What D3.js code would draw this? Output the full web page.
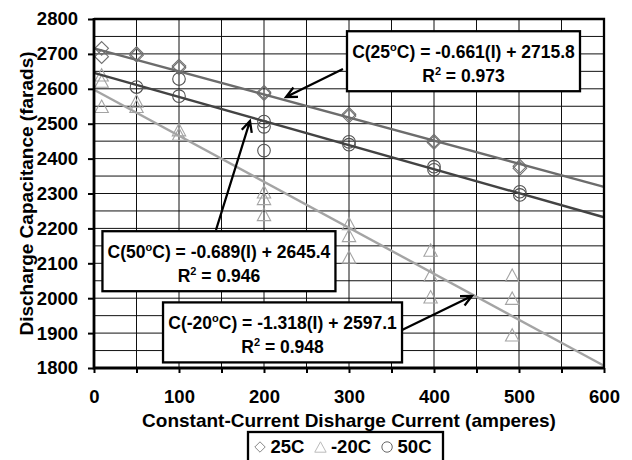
<!DOCTYPE html>
<html>
<head>
<meta charset="utf-8">
<script src="https://cdn.jsdelivr.net/npm/d3@7/dist/d3.min.js"></script>
<style>
body{margin:0;background:#fff;}
svg{display:block;font-family:"Liberation Sans",Arial,sans-serif;font-weight:bold;}
</style>
</head>
<body>
<div id="chart"></div>
<script>
// measured points [current (A), capacitance (F)]
var points25 = [[9,2716],[9,2692],[50,2701],[50,2696],[100,2665],[100,2660],[200,2590],[200,2586],
  [300,2527],[300,2522],[400,2450],[400,2446],[501,2378],[501,2372]];
var pointsM20 = [[9,2640],[9,2622],[9,2550],[50,2565],[50,2550],[100,2483],[100,2470],[200,2305],
  [200,2286],[200,2240],[300,2214],[300,2180],[300,2118],[396,2138],[396,2066],[396,2004],
  [492,2066],[492,2000],[492,1895]];
var points50 = [[50,2605],[100,2628],[100,2579],[200,2506],[200,2491],[200,2423],[300,2448],
  [300,2440],[400,2377],[400,2368],[501,2305],[501,2296]];

var seriesNames = ['25C', '-20C', '50C'];
var seriesTemp = ['25', '-20', '50'];
var fitSlope = [-0.661, -1.318, -0.689];
var fitIntercept = [2715.8, 2597.1, 2645.4];
var rSquared = ['0.973', '0.948', '0.946'];

// annotation boxes (centre, data units) and arrows (from -> to, data units)
var boxCentre = [[434.7, 2679], [221.8, 1902], [147, 2106]];
var arrowFrom = [[292.9, 2656.7], [362.4, 1908.9], [143.5, 2195.4]];
var arrowTo = [[225.9, 2576.5], [444.7, 2006.3], [183.5, 2507.7]];

var xTicks = d3.range(0, 601, 50);
var yTicks = d3.range(1800, 2801, 100);

var width = 632, height = 460;
var markerColor = ['#707070', '#a4a4a4', '#505050'];
var lineColor = ['#6c6c6c', '#a4a4a4', '#434343'];

var svg = d3.select('#chart').append('svg')
  .attr('width', width).attr('height', height);

var x = d3.scaleLinear().domain([0, 600]).range([94, 604]);
var y = d3.scaleLinear().domain([1800, 2800]).range([368, 19]);

// grid every 50 both ways
var grid = svg.append('g').attr('stroke', '#111').attr('stroke-width', 1);
grid.selectAll('.gx').data(d3.range(50, 600, 50)).enter().append('line')
  .attr('x1', d => x(d)).attr('x2', d => x(d))
  .attr('y1', y(1800)).attr('y2', y(2800));
grid.selectAll('.gy').data(d3.range(1850, 2800, 50)).enter().append('line')
  .attr('x1', x(0)).attr('x2', x(600))
  .attr('y1', d => y(d)).attr('y2', d => y(d));

// marker shapes
function diamond(r){
  return 'M0,' + (-r) + 'L' + r + ',0L0,' + r + 'L' + (-r) + ',0Z';
}
function triangle(r){
  return 'M0,' + (-r) + 'L' + (r + 0.5) + ',' + r + 'L' + (-r - 0.5) + ',' + r + 'Z';
}
function circle(r){
  return d3.arc()({innerRadius: 0, outerRadius: r, startAngle: 0, endAngle: 2 * Math.PI});
}
var shapes = [diamond, triangle, circle];
var allPoints = [points25, pointsM20, points50];
var markerSize = [6.8, 6.2, 6.3];

for(var i = 0; i < allPoints.length; i++){
  svg.append('g').selectAll('path').data(allPoints[i]).enter().append('path')
    .attr('transform', d => 'translate(' + x(d[0]) + ',' + y(d[1]) + ')')
    .attr('d', shapes[i](markerSize[i]))
    .attr('fill', 'none')
    .attr('stroke', markerColor[i])
    .attr('stroke-width', 1.1);
}

// trend lines from the fitted equations
for(var i = 0; i < fitSlope.length; i++){
  var fit = [0, 600].map(v => [v, fitIntercept[i] + fitSlope[i] * v]);
  svg.append('path')
    .attr('d', d3.line().x(d => x(d[0])).y(d => y(d[1]))(fit))
    .attr('fill', 'none')
    .attr('stroke', lineColor[i])
    .attr('stroke-width', 2.4);
}

// axes
var yAxis = svg.append('g')
  .attr('transform', 'translate(' + x(0) + ',0)')
  .call(d3.axisLeft(y).tickValues(yTicks).tickSize(6).tickPadding(10).tickFormat(d3.format('d')));
var xAxis = svg.append('g')
  .attr('transform', 'translate(0,' + y(1800) + ')')
  .call(d3.axisBottom(x).tickValues(xTicks).tickSize(5).tickPadding(17)
    .tickFormat(d => d % 100 === 0 ? d : ''));
[yAxis, xAxis].forEach(function(a){
  a.select('.domain').remove();
  a.selectAll('line').attr('stroke', '#000').attr('stroke-width', 2);
  a.selectAll('text').attr('fill', '#000')
    .style('font-size', '18.5px').style('font-weight', 'bold')
    .style('font-family', '"Liberation Sans",Arial,sans-serif');
});

// frame
svg.append('path')
  .attr('d', 'M' + x(0) + ',' + y(2800) + 'H' + x(600) + 'V' + y(1800))
  .attr('fill', 'none').attr('stroke', '#000').attr('stroke-width', 2.3);
svg.append('path')
  .attr('d', 'M' + x(0) + ',' + (y(2800) - 1) + 'V' + y(1800) + 'H' + (x(600) + 1))
  .attr('fill', 'none').attr('stroke', '#000').attr('stroke-width', 2.8);

// axis titles
svg.append('text')
  .attr('transform', 'translate(33,' + ((y(1800) + y(2800)) / 2) + ') rotate(-90)')
  .attr('text-anchor', 'middle')
  .style('font-size', '19px')
  .text('Discharge Capacitance (farads)');
svg.append('text')
  .attr('x', (x(0) + x(600)) / 2).attr('y', 427)
  .attr('text-anchor', 'middle')
  .style('font-size', '19px')
  .text('Constant-Current Disharge Current (amperes)');

// arrows
function arrow(from, to){
  var x1 = x(from[0]), y1 = y(from[1]), x2 = x(to[0]), y2 = y(to[1]);
  var ang = Math.atan2(y2 - y1, x2 - x1), len = 12, spread = 0.45;
  var a1 = [x2 - len * Math.cos(ang - spread), y2 - len * Math.sin(ang - spread)];
  var a2 = [x2 - len * Math.cos(ang + spread), y2 - len * Math.sin(ang + spread)];
  svg.append('path')
    .attr('d', 'M' + x1 + ',' + y1 + 'L' + x2 + ',' + y2 +
      'M' + a1[0] + ',' + a1[1] + 'L' + x2 + ',' + y2 + 'L' + a2[0] + ',' + a2[1])
    .attr('fill', 'none').attr('stroke', '#000').attr('stroke-width', 2.3);
}
for(var i = 0; i < arrowFrom.length; i++){
  arrow(arrowFrom[i], arrowTo[i]);
}

// equation boxes
var boxW = [233, 239, 233], boxH = 60;
for(var i = 0; i < boxCentre.length; i++){
  var cx = x(boxCentre[i][0]), cy = y(boxCentre[i][1]);
  var boxTop = cy - boxH / 2;
  var g = svg.append('g');
  g.append('rect')
    .attr('x', cx - boxW[i] / 2).attr('y', boxTop)
    .attr('width', boxW[i]).attr('height', boxH)
    .attr('fill', '#fff').attr('stroke', '#000').attr('stroke-width', 2.3);
  var sign = fitIntercept[i] >= 0 ? ' + ' : ' - ';
  var t1 = g.append('text').attr('x', cx).attr('y', boxTop + 27)
    .attr('text-anchor', 'middle').style('font-size', '17.5px');
  t1.append('tspan').text('C(' + seriesTemp[i]);
  t1.append('tspan').attr('dy', -7).style('font-size', '11px').text('o');
  t1.append('tspan').attr('dy', 7)
    .text('C) = ' + fitSlope[i].toFixed(3) + '(I)' + sign + fitIntercept[i].toFixed(1));
  var t2 = g.append('text').attr('x', cx).attr('y', boxTop + 51)
    .attr('text-anchor', 'middle').style('font-size', '17.5px');
  t2.append('tspan').text('R');
  t2.append('tspan').attr('dy', -7).style('font-size', '11px').text('2');
  t2.append('tspan').attr('dy', 7).text(' = ' + rSquared[i]);
}

// legend
var legend = svg.append('g');
legend.append('rect')
  .attr('x', 248).attr('y', 432).attr('width', 195).attr('height', 40)
  .attr('fill', '#fff').attr('stroke', '#000').attr('stroke-width', 2.3);
var legendColor = ['#888', '#bbb', '#666'];
var lx = 260;
for(var i = 0; i < seriesNames.length; i++){
  legend.append('path')
    .attr('transform', 'translate(' + lx + ',447)')
    .attr('d', shapes[i](5.2))
    .attr('fill', 'none').attr('stroke', legendColor[i]).attr('stroke-width', 1);
  var lt = legend.append('text')
    .attr('x', lx + 10.5).attr('y', 452.5)
    .style('font-size', '18.5px')
    .text(seriesNames[i]);
  lx = lx + 10.5 + lt.node().getComputedTextLength() + 16;
}
</script>
</body>
</html>
